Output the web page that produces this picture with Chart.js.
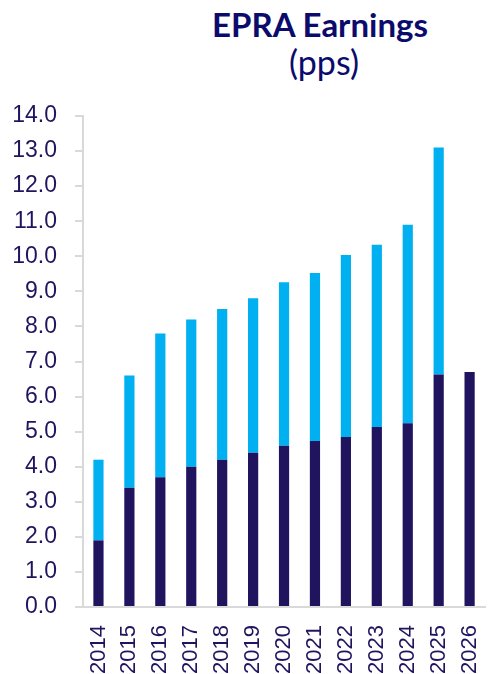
<!DOCTYPE html>
<html>
<head>
<meta charset="utf-8">
<script src="https://cdn.jsdelivr.net/npm/chart.js@4/dist/chart.umd.min.js"></script>
<style>
  html, body { margin: 0; padding: 0; background: #fff; overflow: hidden; }
  #wrap { position: relative; width: 498px; height: 674px; overflow: hidden; }
  .title { position: absolute; left: 170px; width: 300px; text-align: center; color: #0b0b6c; font-family: Lato, "Noto Sans", sans-serif; }
  #t1 { top: 4px; font-size: 33px; font-weight: 700; }
  #t2 { top: 41px; font-size: 34px; font-weight: 400; left: 174px; }
  #chartBox { position: absolute; left: 0; top: 0; width: 506px; height: 674px; }
</style>
</head>
<body>
<div id="wrap">
  <div class="title" id="t1">EPRA Earnings</div>
  <div class="title" id="t2">(pps)</div>
  <div id="chartBox"><canvas id="c"></canvas></div>
</div>
<script>
const years = ['2014', '2015', '2016', '2017', '2018', '2019', '2020', '2021', '2022', '2023', '2024', '2025', '2026'];
// dark base segment and light top segment (top = total - base)
const baseValues = [1.9, 3.4, 3.7, 4.0, 4.2, 4.4, 4.6, 4.73, 4.85, 5.13, 5.24, 6.63, 6.7];
const topValues  = [2.3, 3.2, 4.1, 4.2, 4.3, 4.4, 4.66, 4.79, 5.19, 5.2, 5.66, 6.47, 0];

const navy = '#21145f';
const lightBlue = '#00b0f0';
const axisGrey = '#d9d9d9';

new Chart(document.getElementById('c'), {
  type: 'bar',
  data: {
    labels: years,
    datasets: [
      {
        label: 'Base',
        data: baseValues,
        backgroundColor: navy,
        barPercentage: 0.33,
        categoryPercentage: 1,
        stack: 's',
      },
      {
        label: 'Top',
        data: topValues,
        backgroundColor: lightBlue,
        barPercentage: 0.33,
        categoryPercentage: 1,
        stack: 's',
      },
    ],
  },
  options: {
    responsive: true,
    maintainAspectRatio: false,
    animation: false,
    layout: { padding: { top: 116, right: 0, bottom: 0, left: 0 } },
    plugins: {
      legend: { display: false },
      tooltip: { enabled: false },
    },
    scales: {
      x: {
        stacked: true,
        afterFit: (s) => { s.height = 67; },
        grid: { display: false },
        border: { display: true, color: axisGrey, width: 2 },
        ticks: {
          color: navy,
          font: { family: "'Liberation Sans', Arial, sans-serif", size: 22 },
          minRotation: 90,
          maxRotation: 90,
          padding: 10,
          autoSkip: false,
        },
      },
      y: {
        stacked: true,
        min: 0,
        max: 14,
        afterFit: (s) => { s.width = 83; },
        grid: { drawOnChartArea: false, color: axisGrey, lineWidth: 2, tickLength: 8 },
        border: { display: true, color: axisGrey, width: 2 },
        ticks: {
          stepSize: 1,
          color: navy,
          padding: 18,
          font: { family: "'Liberation Sans', Arial, sans-serif", size: 23 },
          callback: (v) => Number(v).toFixed(1),
        },
      },
    },
  },
});
</script>
</body>
</html>
